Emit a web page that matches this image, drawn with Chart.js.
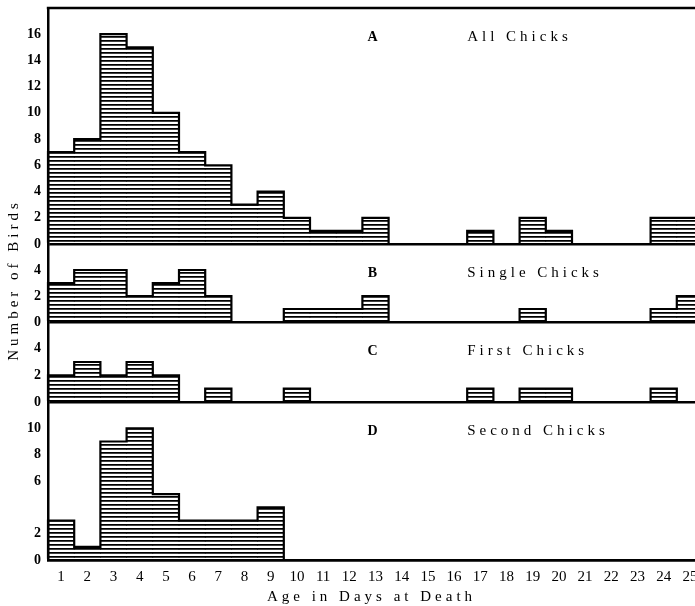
<!DOCTYPE html>
<html><head><meta charset="utf-8">
<script src="https://cdn.jsdelivr.net/npm/chart.js@4.4.1/dist/chart.umd.min.js"></script>
<style>
html,body{margin:0;padding:0;overflow:hidden;background:#fff;width:695px;height:606px}
#wrap{position:relative;width:705px;height:606px}
</style>
</head><body><div id="wrap"><canvas id="c"></canvas></div>
<script>
// ---- data ----
const days = ['1','2','3','4','5','6','7','8','9','10','11','12','13','14','15','16','17','18','19','20','21','22','23','24','25'];
const allChicks    = [7,8,16,15,10,7,6,3,4,2,1,1,2,0,0,0,1,0,2,1,0,0,0,2,2];
const singleChicks = [3,4,4,2,3,4,2,0,0,1,1,1,2,0,0,0,0,0,1,0,0,0,0,1,2];
const firstChicks  = [2,3,2,3,2,0,1,0,0,1,0,0,0,0,0,0,1,0,1,1,0,0,0,1,0];
const secondChicks = [3,1,9,10,5,3,3,3,4,0,0,0,0,0,0,0,0,0,0,0,0,0,0,0,0];
const panelLetters = ['A','B','C','D'];
const panelTitles  = ['All Chicks','Single Chicks','First Chicks','Second Chicks'];
const ticksA = [0,2,4,6,8,10,12,14,16];
const ticksB = [0,2,4];
const ticksC = [0,2,4];
const ticksD = [0,2,6,8,10];
const yTitle = 'Number of Birds';
const xTitle = 'Age in Days at Death';

// ---- hatch pattern ----
function hatch(){
  const c=document.createElement('canvas'); c.width=8; c.height=4;
  const x=c.getContext('2d');
  x.fillStyle='#000'; x.fillRect(0,0,8,1);
  x.fillStyle='rgba(0,0,0,0.75)'; x.fillRect(0,1,8,1);
  return x.createPattern(c,'repeat');
}
const pat = hatch();

const series = [allChicks, singleChicks, firstChicks, secondChicks];
const axisIds = ['yA','yB','yC','yD'];

function yScale(max, ticks, weight){
  return {
    type:'linear', position:'left', stack:'panels', stackWeight:weight, min:0, max:max,
    afterBuildTicks: s => { s.ticks = ticks.map(v => ({value:v})); },
    afterFit: s => { s.width = 48; s.paddingTop = 0; s.paddingBottom = 0; },
    grid:{ drawTicks:false, color: c => (c.tick && c.tick.value===0) ? '#000' : 'rgba(0,0,0,0)', lineWidth:2.5 },
    border:{ display:true, color:'#000', width:2.5 },
    ticks:{ padding:7, color:'#000', autoSkip:false, font:{family:'Liberation Serif', size:14, weight:'bold'} }
  };
}

const decor = {
  id:'decor',
  afterDatasetsDraw(chart){
    const ctx = chart.ctx, area = chart.chartArea, xs = chart.scales.x;
    ctx.save();
    ctx.strokeStyle='#000'; ctx.lineWidth=2.2; ctx.lineJoin='miter';
    chart.data.datasets.forEach((ds,i)=>{
      const bars = chart.getDatasetMeta(i).data;
      ctx.beginPath();
      bars.forEach((b,j)=>{
        const l=b.x-b.width/2, r=b.x+b.width/2;
        if(j===0) ctx.moveTo(l,b.base);
        ctx.lineTo(l,b.y); ctx.lineTo(r,b.y);
        if(j===bars.length-1) ctx.lineTo(r,b.base);
      });
      ctx.stroke();
    });
    // top frame line
    ctx.lineWidth=2.5;
    ctx.beginPath(); ctx.moveTo(area.left-1.2, area.top); ctx.lineTo(area.right, area.top); ctx.stroke();
    // panel labels
    const binW = xs.getPixelForValue(1) - xs.getPixelForValue(0);
    ctx.fillStyle='#000'; ctx.textBaseline='middle';
    axisIds.forEach((id,i)=>{
      const s = chart.scales[id];
      const y = s.top + 29;
      ctx.letterSpacing='0px';
      ctx.textAlign='center';
      ctx.font='bold 14px "Liberation Serif"';
      ctx.fillText(panelLetters[i], xs.getPixelForValue(12) - 3, y);
      ctx.textAlign='left';
      ctx.font='15px "Liberation Serif"';
      ctx.letterSpacing='4px';
      ctx.fillText(panelTitles[i], xs.getPixelForValue(16) - binW/2, y);
    });
    // axis titles
    ctx.font='15px "Liberation Serif"';
    ctx.letterSpacing='4px';
    ctx.textAlign='center';
    ctx.fillText(xTitle, (area.left+area.right)/2 - 4, 597);
    ctx.save();
    ctx.translate(14, (area.top+area.bottom)/2 - 4);
    ctx.rotate(-Math.PI/2);
    ctx.fillText(yTitle, 0, 0);
    ctx.restore();
    ctx.restore();
  }
};

new Chart(document.getElementById('c'), {
  type:'bar',
  data:{
    labels: days,
    datasets: series.map((d,i)=>({
      label: panelTitles[i], data: d, yAxisID: axisIds[i],
      backgroundColor: pat, borderWidth:0, barPercentage:1, categoryPercentage:1, grouped:false
    }))
  },
  options:{
    responsive:true, maintainAspectRatio:false, animation:false,
    layout:{ padding:{ top:8, left:0, right:2, bottom:0 } },
    plugins:{ legend:{display:false}, tooltip:{enabled:false} },
    scales:{
      yD: yScale(12, ticksD, 158),
      yC: yScale(6, ticksC, 80),
      yB: yScale(6, ticksB, 78),
      yA: yScale(18, ticksA, 236),
      x:{
        type:'category', offset:true,
        grid:{ display:false, drawTicks:false },
        border:{ display:true, color:'#000', width:2.5 },
        ticks:{ padding:8, color:'#000', autoSkip:false, maxRotation:0, font:{family:'Liberation Serif', size:15} },
        afterFit: s => { s.height = 46; s.paddingLeft = 0; s.paddingRight = 0; }
      }
    }
  },
  plugins:[decor]
});
</script>
</body></html>
